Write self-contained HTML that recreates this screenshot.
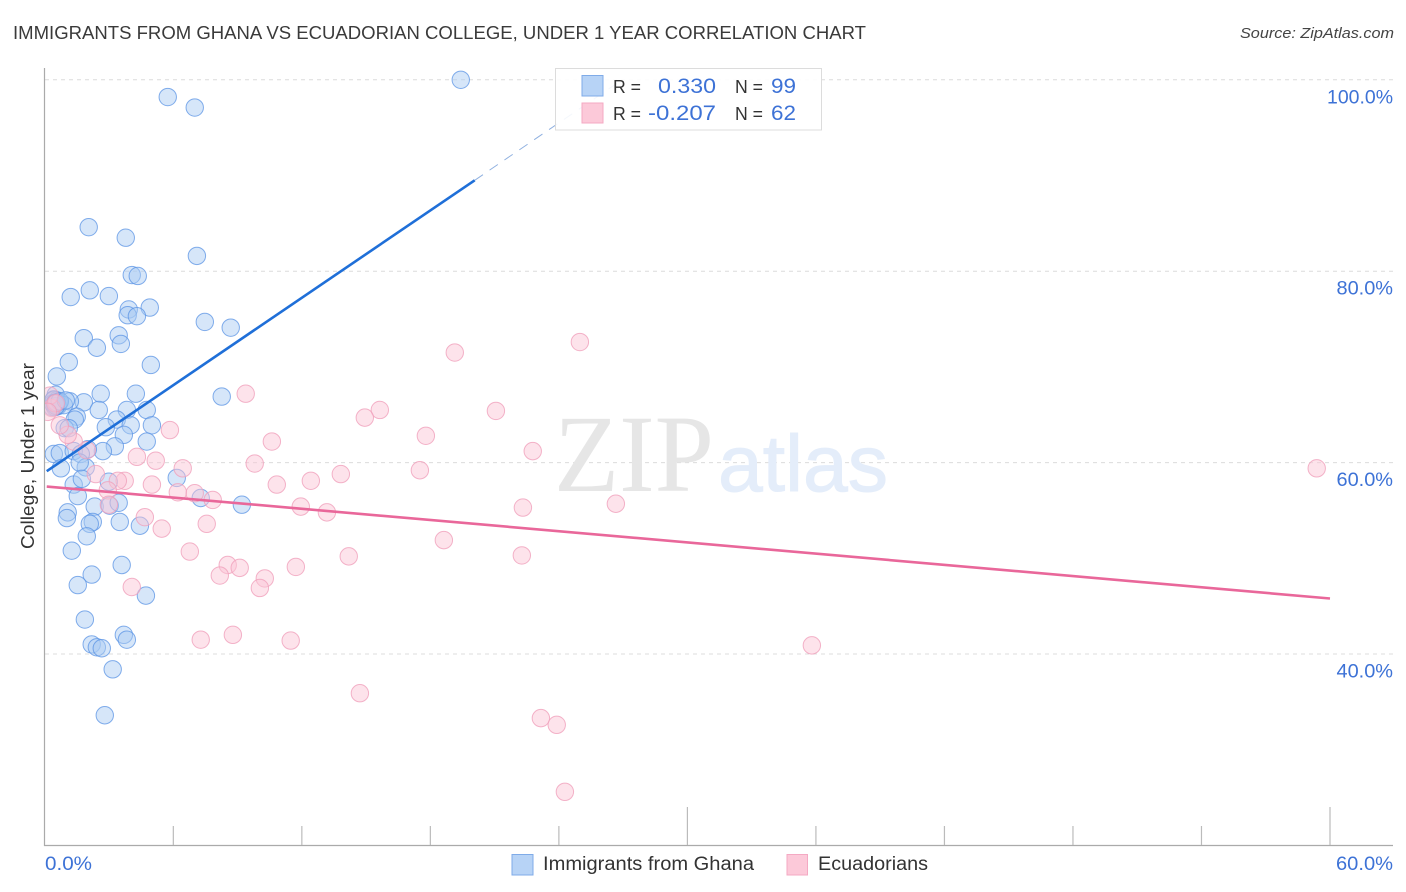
<!DOCTYPE html>
<html lang="en">
<head>
<meta charset="utf-8">
<title>Immigrants from Ghana vs Ecuadorian College, Under 1 Year Correlation Chart</title>
<style>
html,body{margin:0;padding:0;background:#fff}
svg{display:block}
text{font-family:"Liberation Sans",sans-serif}
</style>
</head>
<body>
<svg id="chart" xmlns="http://www.w3.org/2000/svg" width="1406" height="892" viewBox="0 0 1406 892">
  <defs>
    <clipPath id="plot-clip"><rect x="45" y="60" width="1350" height="786"/></clipPath>
  </defs>
  <rect x="0" y="0" width="1406" height="892" fill="#fff"/>
  <text x="13" y="39" font-size="18.5" fill="#3a3a3a" textLength="853" lengthAdjust="spacingAndGlyphs">IMMIGRANTS FROM GHANA VS ECUADORIAN COLLEGE, UNDER 1 YEAR CORRELATION CHART</text>
  <text x="1394" y="38" font-size="15" font-style="italic" fill="#444" text-anchor="end" textLength="154" lengthAdjust="spacingAndGlyphs">Source: ZipAtlas.com</text>
  <g id="grid"></g>
  <text x="554" y="491" font-size="110" fill="#e6e6e6" style="font-family:'Liberation Serif',serif" textLength="160" lengthAdjust="spacingAndGlyphs">ZIP</text>
  <text x="718" y="491" font-size="80" fill="#e4edfa" stroke="#e4edfa" stroke-width="1" textLength="170" lengthAdjust="spacingAndGlyphs">atlas</text>
  <g id="axes"></g>
  <g clip-path="url(#plot-clip)">
    <g id="points-blue"></g>
    <g id="points-pink"></g>
  </g>
  <g id="trends"></g>
  <text transform="translate(34,456) rotate(-90)" font-size="18" fill="#333" text-anchor="middle" textLength="186" lengthAdjust="spacingAndGlyphs">College, Under 1 year</text>
  <g>
    <rect x="555.5" y="68.5" width="266" height="61.5" fill="#fff" fill-opacity="0.9" stroke="#dcdcdc" stroke-width="1"/>
    <rect x="582" y="75.5" width="21" height="20.5" fill="#b7d3f6" stroke="#7fabe8" stroke-width="1"/>
    <rect x="582" y="103" width="21" height="20" fill="#fcc9d9" stroke="#f4a9c3" stroke-width="1"/>
    <text x="613" y="93" font-size="18" fill="#333" textLength="28" lengthAdjust="spacingAndGlyphs">R =</text>
    <text x="658" y="93" font-size="21" fill="#3d72d6" textLength="58" lengthAdjust="spacingAndGlyphs">0.330</text>
    <text x="735" y="93" font-size="18" fill="#333" textLength="28" lengthAdjust="spacingAndGlyphs">N =</text>
    <text x="771" y="93" font-size="21" fill="#3d72d6" textLength="25" lengthAdjust="spacingAndGlyphs">99</text>
    <text x="613" y="120" font-size="18" fill="#333" textLength="28" lengthAdjust="spacingAndGlyphs">R =</text>
    <text x="648" y="120" font-size="21" fill="#3d72d6" textLength="68" lengthAdjust="spacingAndGlyphs">-0.207</text>
    <text x="735" y="120" font-size="18" fill="#333" textLength="28" lengthAdjust="spacingAndGlyphs">N =</text>
    <text x="771" y="120" font-size="21" fill="#3d72d6" textLength="25" lengthAdjust="spacingAndGlyphs">62</text>
  </g>
  <g>
    <rect x="512" y="854.5" width="21" height="20.5" fill="#b7d3f6" stroke="#7fabe8" stroke-width="1"/>
    <text x="543" y="870" font-size="19" fill="#333" textLength="211" lengthAdjust="spacingAndGlyphs">Immigrants from Ghana</text>
    <rect x="787" y="854.5" width="20.5" height="20.5" fill="#fcc9d9" stroke="#f4a9c3" stroke-width="1"/>
    <text x="818" y="870" font-size="19" fill="#333" textLength="110" lengthAdjust="spacingAndGlyphs">Ecuadorians</text>
  </g>
</svg>
<script>
const yGridValues = [100, 80, 60, 40];
const yTickLabels = ["100.0%", "80.0%", "60.0%", "40.0%"];
const xTickValues = [6, 12, 18, 24, 30, 36, 42, 48, 54, 60];
const xMajorTicks = [30, 60];
const xEndLabels = ["0.0%", "60.0%"];
const ghanaX = [19.42,5.74,7.00,2.05,3.78,7.10,4.06,4.34,2.10,1.21,2.99,3.92,4.90,3.87,4.30,7.47,8.68,1.82,3.45,3.55,2.43,4.95,1.12,0.56,8.26,4.25,2.61,0.51,1.82,1.17,2.52,4.76,3.83,3.36,1.49,1.40,2.85,4.01,5.00,0.93,1.12,3.69,4.76,3.27,2.71,2.01,0.42,0.70,1.35,1.68,0.75,1.91,1.63,6.16,1.35,1.73,2.99,1.54,7.28,9.20,2.33,3.03,3.45,1.07,1.03,3.50,4.44,2.24,2.10,1.96,1.26,3.59,2.19,1.54,4.72,1.87,3.69,3.83,2.19,2.43,2.66,3.17,2.80,0.35,0.40,0.45,0.47,0.56,0.60,0.65,0.38,0.42,0.61,0.89,0.47,0.52,0.55,0.70,0.98];
const ghanaY = [100.0,98.2,97.1,84.6,83.5,81.6,79.6,79.5,78.0,77.3,77.4,76.0,76.2,75.4,75.3,74.7,74.1,73.0,73.3,72.4,72.0,70.2,70.5,69.0,66.9,67.2,67.2,67.1,66.3,66.4,65.5,65.5,65.5,64.5,64.8,64.5,63.7,63.9,63.9,63.6,63.6,62.9,62.2,61.7,61.2,61.4,60.9,61.0,61.2,60.9,59.4,59.5,60.0,58.4,57.7,58.3,58.0,56.5,56.3,55.6,55.4,55.5,55.8,54.8,54.2,53.8,53.4,53.8,53.6,52.3,50.8,49.3,48.3,47.2,46.1,43.6,42.0,41.5,41.0,40.7,40.6,38.4,33.6,65.8,66.5,66.0,65.8,66.5,66.0,66.3,66.2,66.6,65.9,66.0,66.2,65.9,66.3,66.4,66.5];
const ecuadorX = [59.38,19.14,24.98,9.38,15.64,14.94,21.06,17.79,5.84,10.60,22.78,9.80,6.44,13.82,17.51,5.18,4.30,10.83,12.42,5.00,6.21,7.00,7.84,11.95,13.17,22.32,26.66,7.56,4.67,5.46,6.77,18.63,14.19,22.27,11.72,8.54,9.10,8.17,10.27,10.04,4.06,7.28,8.78,11.48,35.81,14.71,23.16,23.90,24.28,3.73,3.41,2.94,2.99,2.38,1.96,1.35,1.07,0.70,0.33,0.23,0.51,0.14];
const ecuadorY = [59.4,71.5,72.6,67.2,65.5,64.7,65.4,62.8,63.4,62.2,61.2,59.9,59.4,58.8,59.2,60.2,60.6,57.7,58.1,57.7,56.9,56.8,56.1,55.4,54.8,55.3,55.7,53.6,54.3,53.1,50.7,51.9,50.2,50.3,49.1,49.3,49.0,48.2,47.9,46.9,47.0,41.5,42.0,41.4,40.9,35.9,33.3,32.6,25.6,58.1,58.1,57.1,55.6,58.8,61.3,62.2,62.9,63.9,65.7,67.0,66.2,65.3];
const ghanaTrendX = [0.09, 20.07];
const ghanaTrendY = [59.1, 89.5];
const ghanaDashX = [20.07, 26.95];
const ghanaDashY = [89.5, 100.0];
const ecuadorTrendX = [0.09, 60];
const ecuadorTrendY = [57.5, 45.8];

const NS = "http://www.w3.org/2000/svg";
function xScale(v) { return 44.8 + v * 21.42; }
function yScale(v) { return 654 + (40 - v) * 9.57; }
function make(tag, attrs, parent) {
  const el = document.createElementNS(NS, tag);
  for (const k in attrs) el.setAttribute(k, attrs[k]);
  parent.appendChild(el);
  return el;
}
const gridG = document.getElementById("grid");
const axesG = document.getElementById("axes");
const blueG = document.getElementById("points-blue");
const pinkG = document.getElementById("points-pink");
const trendG = document.getElementById("trends");

yGridValues.forEach(function (v, i) {
  const line = make("line", {x1: 45, x2: 1393, y1: yScale(v), y2: yScale(v), stroke: "#dcdcdc", "stroke-width": 1, "stroke-dasharray": "4 4"}, gridG);
  
  
  const label = make("text", {x: 1393, y: yScale(v) + 23.5, "font-size": 19.5, fill: "#3d72d6", "text-anchor": "end", textLength: yTickLabels[i].length * 9.5 + 9, lengthAdjust: "spacingAndGlyphs"}, axesG);
  label.textContent = yTickLabels[i];
  
  
});

const yAxis = make("line", {x1: 44.5, x2: 44.5, y1: 68, y2: 846, stroke: "#aaa", "stroke-width": 1.2}, axesG);


const xAxis = make("line", {x1: 44, x2: 1393, y1: 845.5, y2: 845.5, stroke: "#aaa", "stroke-width": 1.2}, axesG);



xTickValues.forEach(function (v) {
  const top = xMajorTicks.indexOf(v) >= 0 ? 807 : 826;
  const tick = make("line", {x1: xScale(v), x2: xScale(v), y1: top, y2: 845, stroke: "#bbb", "stroke-width": 1.2}, axesG);
  
  
});

const xStart = make("text", {x: 45, y: 870, "font-size": 19.5, fill: "#3d72d6", textLength: 47, lengthAdjust: "spacingAndGlyphs"}, axesG);
xStart.textContent = xEndLabels[0];


const xEnd = make("text", {x: 1336, y: 870, "font-size": 19.5, fill: "#3d72d6", textLength: 57, lengthAdjust: "spacingAndGlyphs"}, axesG);
xEnd.textContent = xEndLabels[1];



ghanaX.forEach(function (v, i) {
  const c = make("circle", {cx: xScale(v), cy: yScale(ghanaY[i]), r: 8.7, fill: "#a9caf3", "fill-opacity": 0.48, stroke: "#5a93e4", "stroke-opacity": 0.75, "stroke-width": 1}, blueG);
  
  
});
ecuadorX.forEach(function (v, i) {
  const c = make("circle", {cx: xScale(v), cy: yScale(ecuadorY[i]), r: 8.7, fill: "#fbc4d6", "fill-opacity": 0.48, stroke: "#f0a0bc", "stroke-opacity": 0.8, "stroke-width": 1}, pinkG);
  
  
});

const ghanaDash = make("line", {x1: xScale(ghanaDashX[0]), y1: yScale(ghanaDashY[0]), x2: xScale(ghanaDashX[1]), y2: yScale(ghanaDashY[1]), stroke: "#8fb0e0", "stroke-width": 1, "stroke-dasharray": "10 8"}, trendG);


const ghanaLine = make("line", {x1: xScale(ghanaTrendX[0]), y1: yScale(ghanaTrendY[0]), x2: xScale(ghanaTrendX[1]), y2: yScale(ghanaTrendY[1]), stroke: "#1f6fd8", "stroke-width": 2.6}, trendG);


const ecuadorLine = make("line", {x1: xScale(ecuadorTrendX[0]), y1: yScale(ecuadorTrendY[0]), x2: xScale(ecuadorTrendX[1]), y2: yScale(ecuadorTrendY[1]), stroke: "#e9679a", "stroke-width": 2.6}, trendG);


</script>
</body>
</html>
